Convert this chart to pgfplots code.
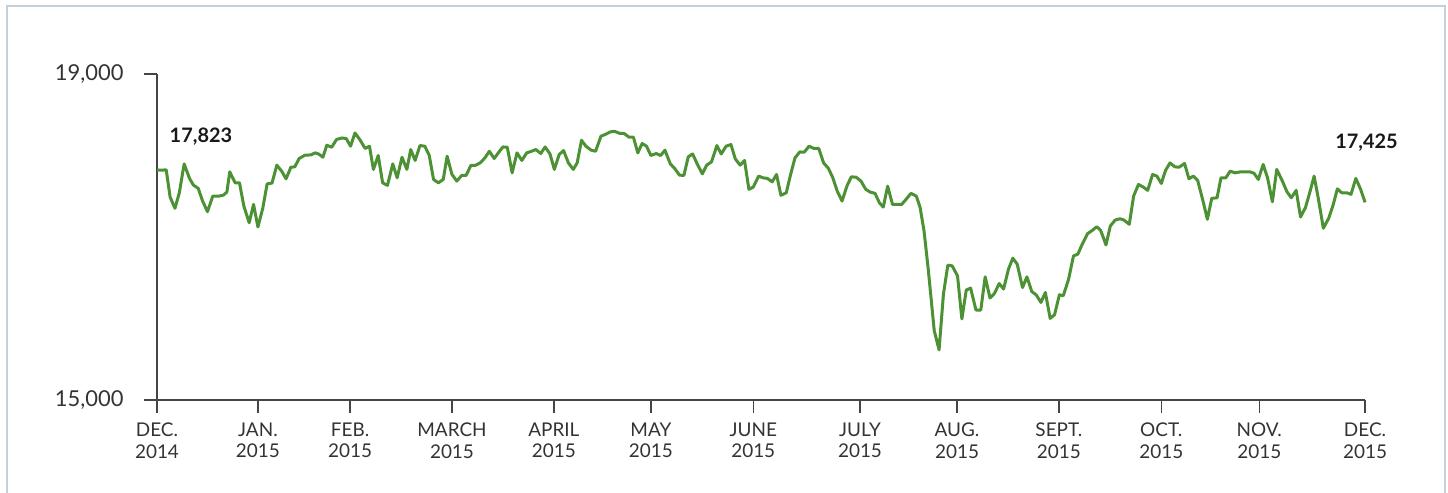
\documentclass[border=0pt]{standalone}
\usepackage{fontspec}
\setmainfont{Lato}
\usepackage{pgfplots}
\pgfplotsset{compat=1.18}
\definecolor{linegreen}{HTML}{4C9235}
\definecolor{framec}{HTML}{C5D1DA}
\definecolor{axc}{HTML}{454545}
\definecolor{labc}{HTML}{333333}
\begin{document}
\begin{tikzpicture}[x=1bp,y=1bp]
\useasboundingbox (0,0) rectangle (1448,493);
\draw[framec, line width=1.5bp] (7,-2) -- (7,487) -- (1445,487) -- (1445,-2);
\begin{axis}[
  at={(157bp,93bp)}, anchor=south west,
  scale only axis, width=1208bp, height=326bp,
  xmin=0, xmax=249, ymin=15000, ymax=19000,
  axis x line=bottom, axis y line=left,
  axis line style={-, axc, line width=1.4bp},
  tick align=outside, major tick length=13bp,
  tick style={axc, line width=1.4bp},
  scaled y ticks=false,
  xtick={0,20.8,39.8,60.8,81.8,101.8,122.9,144.9,164.9,185.9,207,227.2,249},
  xticklabels={{DEC.\\2014},{JAN.\\2015},{FEB.\\2015},{MARCH\\2015},{APRIL\\2015},{MAY\\2015},{JUNE\\2015},{JULY\\2015},{AUG.\\2015},{SEPT.\\2015},{OCT.\\2015},{NOV.\\2015},{DEC.\\2015}},
  xticklabel style={align=center, font=\fontsize{19}{22}\selectfont, text=labc, yshift=-6bp},
  ytick={15000,19000}, yticklabels={{15,000},{19,000}},
  yticklabel style={font=\fontsize{22}{26}\selectfont, text=labc, xshift=-17bp},
  clip=false,
]
\addplot[linegreen, line width=3bp, line join=round] table {
x y
0 17823
1.0 17820
1.9 17824
2.7 17490
3.7 17352
4.6 17542
5.6 17897
6.7 17719
7.5 17637
8.5 17596
9.4 17441
10.4 17310
11.5 17502
12.8 17502
13.7 17514
14.4 17551
15.0 17799
16.1 17665
17.0 17665
17.9 17380
19.0 17175
19.9 17400
20.8 17123
21.8 17352
22.7 17652
23.7 17661
24.7 17881
25.7 17808
26.6 17714
27.6 17857
28.4 17860
29.3 17963
30.5 18004
31.7 18007
32.6 18032
33.3 18019
34.2 17979
35.0 18126
36.0 18101
37.0 18196
38.1 18215
39.0 18208
39.9 18114
40.8 18276
41.8 18196
42.9 18086
43.8 18114
44.6 17829
45.6 18000
46.5 17665
47.5 17633
48.6 17897
49.5 17726
50.5 17979
51.5 17829
52.3 18073
53.2 17939
54.2 18122
55.2 18114
56.1 18004
57.0 17706
58.0 17665
59.0 17706
59.8 17991
60.8 17767
61.8 17686
62.8 17755
63.7 17755
64.7 17878
65.6 17878
66.6 17909
67.6 17971
68.5 18052
69.5 17963
70.6 18052
71.3 18105
72.2 18101
73.2 17787
74.2 18032
75.2 17939
76.2 18032
77.2 18052
78.1 18073
79.1 18024
80.0 18105
81.0 18019
81.9 17829
82.9 18012
83.8 18061
84.8 17909
85.8 17829
86.6 17909
87.5 18187
88.4 18114
89.5 18065
90.4 18052
91.5 18236
92.6 18264
93.4 18289
94.3 18297
95.3 18273
96.3 18269
97.3 18224
98.2 18224
99.1 18032
100.0 18147
100.9 18114
101.8 18000
102.9 18024
103.8 18000
104.7 18065
105.8 17897
106.6 17848
107.7 17759
108.6 17755
109.5 17983
110.4 18019
111.4 17890
112.4 17775
113.3 17881
114.3 17922
115.4 18122
116.3 18019
117.3 18114
118.3 18134
119.2 17958
120.2 17881
121.1 17939
122.0 17584
122.9 17612
124.0 17747
124.9 17726
125.8 17719
126.8 17677
127.7 17767
128.6 17511
129.7 17542
130.6 17767
131.5 17971
132.5 18044
133.4 18040
134.4 18114
135.4 18086
136.4 18086
137.4 17909
138.4 17841
139.3 17726
140.2 17563
141.2 17441
142.2 17624
143.1 17738
144.1 17734
145.1 17686
146.1 17584
147.0 17551
148.0 17535
148.9 17420
149.7 17367
150.6 17624
151.6 17400
152.5 17400
153.5 17400
154.4 17462
155.4 17535
156.5 17502
157.3 17359
158.1 17074
159.0 16585
160.2 15851
161.2 15615
162.1 16300
163.0 16654
163.9 16646
165.0 16523
165.9 15994
166.8 16349
167.7 16373
168.8 16104
169.8 16104
170.7 16511
171.7 16251
172.6 16307
173.6 16429
174.5 16361
175.5 16605
176.4 16740
177.3 16667
178.4 16380
179.3 16511
180.3 16331
181.2 16291
182.2 16197
183.1 16319
184.1 16001
185.0 16046
186.0 16291
186.8 16279
187.9 16483
188.9 16768
189.8 16789
190.7 16911
191.8 17041
192.8 17082
193.7 17126
194.5 17082
195.6 16903
196.5 17135
197.5 17208
198.5 17224
199.3 17208
200.4 17156
201.3 17502
202.3 17645
203.3 17612
204.2 17572
205.2 17767
206.1 17747
207.0 17657
207.9 17820
208.8 17909
209.8 17860
210.7 17857
211.8 17902
212.7 17714
213.6 17747
214.5 17694
215.6 17441
216.5 17217
217.4 17474
218.5 17481
219.3 17726
220.3 17726
221.2 17808
222.2 17787
223.3 17799
224.3 17799
225.3 17799
226.1 17783
227.0 17706
228.0 17890
228.9 17726
229.9 17432
230.8 17829
231.9 17694
232.9 17555
233.8 17481
234.8 17572
235.7 17245
236.7 17359
237.5 17523
238.5 17747
239.4 17462
240.4 17107
241.5 17229
242.4 17388
243.3 17591
244.2 17542
245.3 17542
246.1 17523
247.1 17719
248.1 17584
249.0 17425
};
\node[anchor=base west, font=\bfseries\fontsize{20}{24}\selectfont, text=black!90] at (axis cs:1.9,18157) {17,823};
\node[anchor=base, font=\bfseries\fontsize{20}{24}\selectfont, text=black!90] at (axis cs:249.3,18088) {17,425};
\end{axis}
\end{tikzpicture}
\end{document}
